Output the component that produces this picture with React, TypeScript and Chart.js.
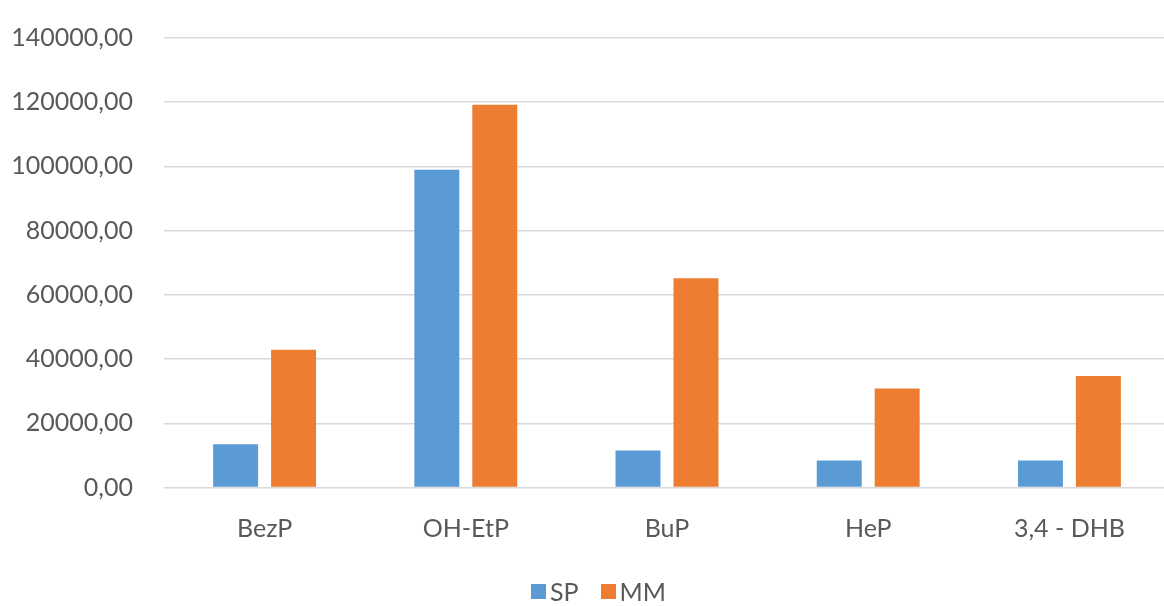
import React, { useEffect, useRef } from "react";
import { Chart, registerables } from "chart.js";

Chart.register(...registerables);

const categories = ["BezP", "OH-EtP", "BuP", "HeP", "3,4 - DHB"];
const spValues = [13500, 99000, 11500, 8400, 8400];
const mmValues = [42900, 119200, 65200, 30800, 34700];
const seriesNames = ["SP", "MM"];
const seriesColors = ["#5B9BD5", "#ED7D31"];

const FONT = "Lato, 'Open Sans', sans-serif";
const TEXT_COLOR = "#595959";

export default function App() {
  const canvasRef = useRef<HTMLCanvasElement | null>(null);

  useEffect(() => {
    document.body.style.margin = "0";
    document.body.style.overflow = "hidden";
    document.documentElement.style.overflow = "hidden";
    const canvas = canvasRef.current;
    if (!canvas) return;

    const chart = new Chart(canvas, {
      type: "bar",
      data: {
        labels: categories,
        datasets: [
          {
            label: seriesNames[0],
            data: spValues,
            backgroundColor: seriesColors[0],
            categoryPercentage: 0.576,
            barPercentage: 0.776,
          },
          {
            label: seriesNames[1],
            data: mmValues,
            backgroundColor: seriesColors[1],
            categoryPercentage: 0.576,
            barPercentage: 0.776,
          },
        ],
      },
      options: {
        animation: false,
        responsive: false,
        maintainAspectRatio: false,
        layout: { padding: { top: 38, left: 0, right: 0, bottom: 0 } },
        plugins: {
          legend: { display: false },
          tooltip: { enabled: false },
        },
        scales: {
          x: {
            grid: { display: false, drawTicks: false },
            border: { display: false },
            ticks: {
              color: TEXT_COLOR,
              font: { family: FONT, size: 25 },
              padding: 26,
              maxRotation: 0,
              autoSkip: false,
            },
            afterFit: (scale: any) => {
              scale.height = 118.5;
            },
          },
          y: {
            min: 0,
            max: 140000,
            grid: { color: "#D9D9D9", lineWidth: 1.5, drawTicks: false },
            border: { display: false },
            ticks: {
              stepSize: 20000,
              color: TEXT_COLOR,
              font: { family: FONT, size: 25 },
              padding: 31,
              callback: (v: any) => Number(v).toFixed(2).replace(".", ","),
            },
            afterFit: (scale: any) => {
              scale.width = 164;
              scale.paddingTop = 0;
              scale.paddingBottom = 0;
            },
          },
        },
      },
    });
    return () => chart.destroy();
  }, []);

  return (
    <div style={{ position: "relative", width: 1170, height: 606, background: "#fff" }}>
      <canvas ref={canvasRef} width={1170} height={606} style={{ display: "block" }} />
      <div
        style={{
          position: "absolute",
          left: 531,
          top: 576,
          display: "flex",
          alignItems: "center",
          fontFamily: FONT,
          fontSize: 25,
          color: TEXT_COLOR,
          lineHeight: "30px",
        }}
      >
        {seriesNames.map((name, i) => (
          <div key={name} style={{ display: "flex", alignItems: "center", marginRight: i === 0 ? 22 : 0 }}>
            <span style={{ width: 15, height: 15, background: seriesColors[i], display: "inline-block", marginRight: 4 }} />
            <span>{name}</span>
          </div>
        ))}
      </div>
    </div>
  );
}
